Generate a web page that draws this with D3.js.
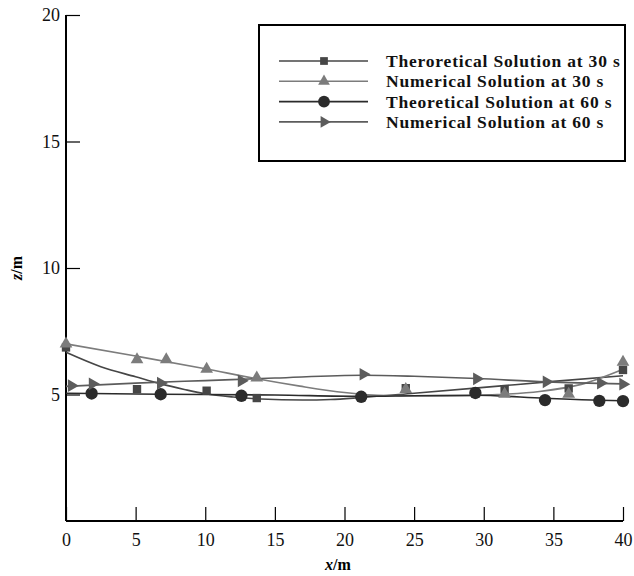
<!DOCTYPE html>
<html>
<head>
<meta charset="utf-8">
<script src="https://cdn.jsdelivr.net/npm/d3@7/dist/d3.min.js"></script>
<style>
  html, body { margin: 0; padding: 0; background: #fff; }
  svg { display: block; }
</style>
</head>
<body>
<svg id="chart" width="634" height="576"></svg>
<script>
// Axis ticks
const xTicks = [0, 5, 10, 15, 20, 25, 30, 35, 40];
const yTicks = [5, 10, 15, 20];

// Series names (legend order)
const seriesNames = [
  "Theroretical Solution at 30 s",
  "Numerical Solution at 30 s",
  "Theoretical Solution at 60 s",
  "Numerical Solution at 60 s"
];

// Fitted curves: [x (m), z (m)]
const theo30Curve = [[0,6.67],[2.5,6.1],[5,5.7],[6.8,5.42],[8.5,5.2],[10,5.03],[12,4.9],[14,4.82],[17,4.78],[19,4.8],[21.2,4.88],[25,5.05],[30,5.28],[35,5.52],[40,5.74]];
const num30Curve  = [[0,7.0],[5,6.52],[10,6.02],[13.7,5.62],[16.8,5.33],[20,5.08],[23,4.96],[27,4.94],[31,5.0],[34,5.12],[37,5.4],[40,6.0]];
const theo60Curve = [[0,5.05],[5,5.02],[10,5.0],[15,4.98],[21.2,4.93],[25,4.95],[29.4,4.97],[34.4,4.85],[38.3,4.77],[40,4.75]];
const num60Curve  = [[0,5.32],[5,5.45],[10,5.55],[15,5.65],[21.3,5.76],[25,5.72],[29.5,5.63],[34.5,5.5],[40,5.42]];

// Sampled points: [x (m), z (m)]
const theo30Points = [[0,6.86],[5.1,5.21],[10.1,5.15],[13.7,4.86],[24.4,5.25],[31.5,5.21],[36.1,5.24],[40,5.97]];
const num30Points  = [[0,7.0],[5.1,6.38],[7.2,6.38],[10.1,6.0],[13.7,5.66],[24.4,5.2],[31.5,5.02],[36.1,5.02],[40,6.28]];
const theo60Points = [[1.84,5.04],[6.8,5.01],[12.6,4.95],[21.2,4.91],[29.4,5.06],[34.4,4.78],[38.3,4.75],[40,4.74]];
const num60Points  = [[0.4,5.35],[1.9,5.42],[6.8,5.45],[12.6,5.54],[21.35,5.8],[29.5,5.62],[34.5,5.5],[38.4,5.45],[40,5.41]];

const series = [
  { name: seriesNames[0], curve: theo30Curve, points: theo30Points, color: "#464646", symbol: d3.symbolSquare,   size: 70 },
  { name: seriesNames[1], curve: num30Curve,  points: num30Points,  color: "#7c7c7c", symbol: d3.symbolTriangle, size: 70 },
  { name: seriesNames[2], curve: theo60Curve, points: theo60Points, color: "#2b2b2b", symbol: d3.symbolCircle,   size: 120 },
  { name: seriesNames[3], curve: num60Curve,  points: num60Points,  color: "#5c5c5c", symbol: "right",            size: 70 }
];

const svg = d3.select("#chart");
const font = "'Liberation Serif', 'DejaVu Serif', serif";

const x = d3.scaleLinear().domain([0, 40]).range([66, 623]);
const y = d3.scaleLinear().domain([0, 20]).range([521, 15]);

function symbolPath(s) {
  if (s.symbol === "right") {
    return d3.symbol().type(d3.symbolTriangle).size(s.size)();
  }
  return d3.symbol().type(s.symbol).size(s.size)();
}
function symbolRotate(s) { return s.symbol === "right" ? " rotate(90)" : ""; }

// Axes with inward ticks
const xAxis = d3.axisBottom(x).tickValues(xTicks).tickSizeInner(-14).tickSizeOuter(0);
const yAxis = d3.axisLeft(y).tickValues(yTicks).tickSizeInner(-14).tickSizeOuter(0);

const gx = svg.append("g").attr("transform", `translate(0,${y(0)})`).call(xAxis);
const gy = svg.append("g").attr("transform", `translate(${x(0)},0)`).call(yAxis);

[gx, gy].forEach(g => {
  g.select(".domain").attr("stroke", "#000").attr("stroke-width", 2);
  g.selectAll(".tick line").attr("stroke", "#000").attr("stroke-width", 1.2);
  g.selectAll(".tick text").attr("fill", "#111").attr("font-family", font).attr("font-size", 18);
});
gy.select(".domain").attr("d", `M0,${y(20)}V${y(0)}`);
gx.select(".domain").attr("d", `M${x(0)},0H${x(40)}`);
gy.selectAll(".tick text").attr("x", -6).attr("text-anchor", "end");
gx.selectAll(".tick text").attr("y", 12);

// Axis titles
svg.append("text")
  .attr("x", 338).attr("y", 570)
  .attr("text-anchor", "middle")
  .attr("font-family", font).attr("font-size", 16).attr("font-weight", "bold")
  .html("<tspan font-style='italic'>x</tspan>/m");

svg.append("text")
  .attr("transform", "translate(22,268) rotate(-90)")
  .attr("text-anchor", "middle")
  .attr("font-family", font).attr("font-size", 16).attr("font-weight", "bold")
  .html("<tspan font-style='italic'>z</tspan>/m");

// Curves
const line = d3.line().x(d => x(d[0])).y(d => y(d[1])).curve(d3.curveMonotoneX);
const plot = svg.append("g");
series.forEach(s => {
  plot.append("path")
    .attr("d", line(s.curve))
    .attr("fill", "none")
    .attr("stroke", s.color)
    .attr("stroke-width", 1.6);
});
// Markers
series.forEach(s => {
  plot.append("g").selectAll("path")
    .data(s.points)
    .join("path")
    .attr("d", symbolPath(s))
    .attr("transform", d => `translate(${x(d[0])},${y(d[1])})${symbolRotate(s)}`)
    .attr("fill", s.color);
});

// Legend
const legend = svg.append("g");
legend.append("rect")
  .attr("x", 259).attr("y", 25).attr("width", 366).attr("height", 136)
  .attr("fill", "#fff").attr("stroke", "#000").attr("stroke-width", 2);

series.forEach((s, i) => {
  const ly = 61 + i * 20.3;
  legend.append("line")
    .attr("x1", 279).attr("x2", 368).attr("y1", ly).attr("y2", ly)
    .attr("stroke", s.color).attr("stroke-width", 1.6);
  const small = Object.assign({}, s, { size: s.symbol === d3.symbolCircle ? 110 : 60 });
  legend.append("path")
    .attr("d", symbolPath(small))
    .attr("transform", `translate(324,${ly})${symbolRotate(s)}`)
    .attr("fill", s.color);
  legend.append("text")
    .attr("x", 386).attr("y", ly + 6)
    .attr("font-family", font).attr("font-size", 17.5).attr("font-weight", "bold")
    .attr("letter-spacing", 0.8)
    .attr("fill", "#111")
    .text(s.name);
});
</script>
</body>
</html>
